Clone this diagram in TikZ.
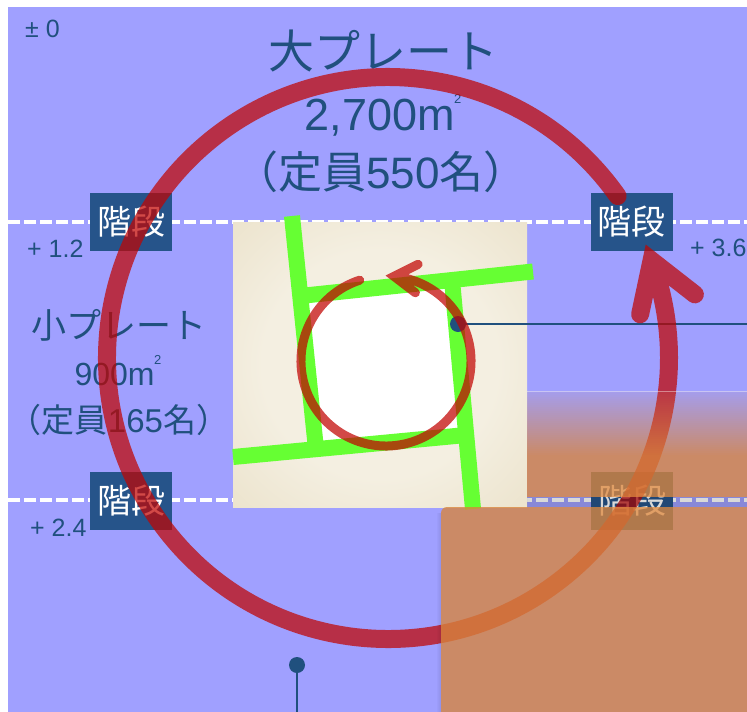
\documentclass[tikz,border=0pt]{standalone}
\usepackage{fontspec}
\setmainfont{Liberation Sans}
\newfontfamily\jp{Noto Sans CJK JP}
\usetikzlibrary{calc}

\definecolor{sky}{RGB}{160,160,255}
\definecolor{ink}{RGB}{32,80,126}
\definecolor{stairblue}{RGB}{38,84,138}
\definecolor{loopred}{RGB}{193,4,1}
\definecolor{road}{RGB}{102,255,51}
\definecolor{veil}{RGB}{216,132,59}
\definecolor{paperlight}{RGB}{244,239,225}
\definecolor{papermid}{RGB}{231,220,192}
\definecolor{paperdark}{RGB}{206,189,148}

\pgfdeclareradialshading{paper}{\pgfpoint{0bp}{0bp}}{color(0bp)=(paperlight); color(20bp)=(paperlight); color(46bp)=(papermid); color(71bp)=(paperdark)}

\newcommand{\sqm}[1]{m\kern-0.5pt\raisebox{#1}{\fontsize{13}{13}\selectfont 2}}

\tikzset{
  level/.style={text=ink, inner sep=0pt, anchor=base west, font=\fontsize{25}{25}\selectfont},
  label/.style={text=ink, inner sep=0pt},
  stairbox/.style={fill=stairblue, text=white, inner sep=0pt, minimum width=82pt, minimum height=58pt, font=\jp\fontsize{34}{34}\selectfont},
  floorline/.style={white, line width=4pt, dash pattern=on 11.5pt off 4.5pt},
  roadline/.style={road, line width=16pt},
  loopstroke/.style={loopred, opacity=0.72, line cap=round, line join=miter},
  pin/.style={circle, fill=ink, inner sep=0pt, minimum size=16pt},
  pinline/.style={ink, line width=1.3pt},
}

\begin{document}
\begin{tikzpicture}[x=1pt,y=-1pt]
\useasboundingbox (0,0) rectangle (747,712);
\fill[white] (0,0) rectangle (747,712);
\fill[sky] (8,7) rectangle (747,712);

% floor boundaries
\coordinate (f1l) at (8,222);  \coordinate (f1r) at (747,222);
\coordinate (f2l) at (8,500);  \coordinate (f2r) at (747,500);
\draw[floorline] (f1l) -- (f1r);
\draw[floorline] (f2l) -- (f2r);

% site map
\shade[shading=paper] (233,222) rectangle (527,507);
\coordinate (q1) at (300,296);
\coordinate (q2) at (452,280);
\coordinate (q3) at (466,435);
\coordinate (q4) at (316,449);
\fill[white] (q1) -- (q2) -- (q3) -- (q4) -- cycle;
\coordinate (rA) at (292,216);
\coordinate (rB) at (533,271.5);
\coordinate (rC) at (473,509);
\coordinate (rD) at (233,457);
\draw[roadline] (rA) -- (q4);
\draw[roadline] (q1) -- (rB);
\draw[roadline] (q2) -- (rC);
\draw[roadline] (rD) -- (q3);

% level marks
\node[level] (lv0) at (25,37) {± 0};
\node[level] (lv1) at (27,257) {+ 1.2};
\node[level] (lv2) at (30,536) {+ 2.4};
\node[level] (lv3) at (690,256) {+ 3.6};

% upper plate
\node[label, font=\jp\fontsize{46}{46}\selectfont] (bigname) at (383,51) {大プレート};
\node[label, anchor=base, font=\fontsize{45}{45}\selectfont] (bigarea) at (383,130) {2,700\sqm{27pt}};
\node[label, anchor=base, font=\fontsize{44}{44}\selectfont] (bigcap) at (381,188) {{\jp （定員}550{\jp 名）}};

% lower plate
\node[label, font=\jp\fontsize{35}{35}\selectfont] (smallname) at (119,325) {小プレート};
\node[label, anchor=base, font=\fontsize{32}{32}\selectfont] (smallarea) at (118,385) {900\sqm{21pt}};
\node[label, anchor=base, font=\fontsize{33}{33}\selectfont] (smallcap) at (119,432) {{\jp （定員}165{\jp 名）}};

% stairs
\node[stairbox] (stairNW) at (131,221.5) {階段};
\node[stairbox] (stairNE) at (631.5,221.5) {階段};
\node[stairbox] (stairSW) at (131,500.5) {階段};
\node[stairbox] (stairSE) at (632,500.5) {階段};

% leader pins
\node[pin] (pinA) at (458,324) {};
\coordinate (pinAend) at (747,324);
\draw[pinline] (pinA) -- (pinAend);
\node[pin] (pinB) at (297,665) {};
\coordinate (pinBend) at (297,712);
\draw[pinline] (pinB) -- (pinBend);

% small loop
\coordinate (smallc) at (386,361);
\coordinate (smalltip) at ($(smallc)+(-84.6:85)$);
\draw[loopstroke, line width=9pt]
  ($(smallc)+(-108:85)$) arc[start angle=-108, end angle=-444.6, radius=85]
  ($(smalltip)+(-26.6:27)$) -- (smalltip) -- ($(smalltip)+(37.4:27)$);

% large loop
\coordinate (bigc) at (388,358);
\coordinate (bigtip) at ($(bigc)+(-20.3:281)$);
\draw[loopstroke, line width=18pt]
  ($(bigc)+(-35.2:281)$) arc[start angle=-35.2, end angle=-380.3, radius=281]
  ($(bigtip)+(102:55)$) -- (bigtip) -- ($(bigtip)+(38:55)$);

% overlay panels
\foreach \k in {0,...,32}{
  \pgfmathsetmacro\op{0.1+0.68*\k/32}
  \fill[veil, fill opacity=\op] (527,{391+2*\k}) rectangle (747,{393+2*\k});
}
\fill[veil, fill opacity=0.78] (527,457) rectangle (747,497);
\draw[white, opacity=0.4, line width=1pt] (527,391.5) -- (747,391.5);
\fill[black, fill opacity=0.15] (527,497) rectangle (747,507);
\foreach \k in {0,...,3}{
  \pgfmathsetmacro\op{0.02+0.02*\k}
  \fill[black, fill opacity=\op] ({437+\k},513) rectangle ({438+\k},712);
}
\fill[veil, fill opacity=0.78] (441,712) {[rounded corners=6pt] -- (441,507) -- (560,507)} -- (747,507) -- (747,712) -- cycle;
\end{tikzpicture}
\end{document}
